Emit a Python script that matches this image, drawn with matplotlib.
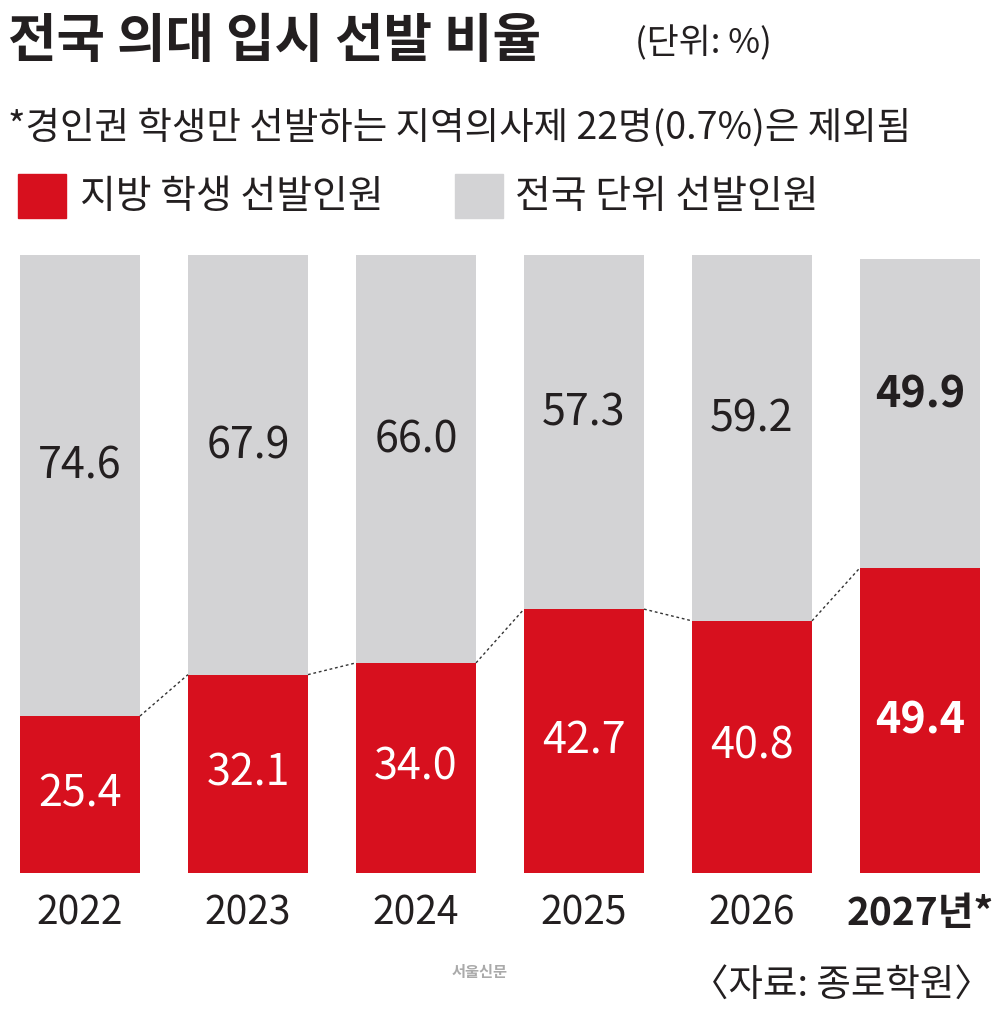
import matplotlib.pyplot as plt

plt.rcParams['font.family'] = ['Noto Sans CJK KR', 'DejaVu Sans']

years = ['2022', '2023', '2024', '2025', '2026', '2027년*']
local = [25.4, 32.1, 34.0, 42.7, 40.8, 49.4]
national = [74.6, 67.9, 66.0, 57.3, 59.2, 49.9]

RED = '#D7101E'
GRAY = '#D3D3D5'

fig = plt.figure(figsize=(10, 10.19), dpi=100)
ax = fig.add_axes([0.02, 146 / 1019, 0.96, 618 / 1019])

x = list(range(len(years)))
w = 120 / 168
ax.bar(x, local, width=w, color=RED)
ax.bar(x, national, width=w, bottom=local, color=GRAY)

for i in range(len(years)):
    bold = 'bold' if i == len(years) - 1 else 'normal'
    ax.text(i, local[i] / 2, f'{local[i]:.1f}', ha='center', va='center',
            color='white', fontsize=31, fontweight=bold)
    ax.text(i, local[i] + national[i] / 2 + 3, f'{national[i]:.1f}', ha='center', va='center',
            color='#231f20', fontsize=31, fontweight=bold)
    ax.text(i, -6.5, years[i], ha='center', va='center', color='#231f20',
            fontsize=28, fontweight=bold)

for i in range(len(years) - 1):
    ax.plot([i + w / 2, i + 1 - w / 2], [local[i], local[i + 1]],
            ls=(0, (2, 2)), color='#333333', lw=1)

ax.set_xlim(-0.357, 5.357)
ax.set_ylim(0, 100)
ax.axis('off')

fig.text(0.008, 1 - 42 / 1019, '전국 의대 입시 선발 비율', fontsize=38, fontweight='bold',
         va='center', color='#231f20')
fig.text(0.635, 1 - 44 / 1019, '(단위: %)', fontsize=25, va='center', color='#231f20')
fig.text(0.008, 1 - 128 / 1019, '*경인권 학생만 선발하는 지역의사제 22명(0.7%)은 제외됨',
         fontsize=27, va='center', color='#231f20')
fig.patches.append(plt.Rectangle((0.018, 1 - 218 / 1019), 0.048, 44 / 1019,
                                 transform=fig.transFigure, color=RED))
fig.text(0.08, 1 - 197 / 1019, '지방 학생 선발인원', fontsize=28, va='center', color='#231f20')
fig.patches.append(plt.Rectangle((0.455, 1 - 218 / 1019), 0.048, 44 / 1019,
                                 transform=fig.transFigure, color=GRAY))
fig.text(0.515, 1 - 197 / 1019, '전국 단위 선발인원', fontsize=28, va='center', color='#231f20')
fig.text(0.452, 1 - 972 / 1019, '서울신문', fontsize=11, va='center', color='#aaaaaa',
         fontweight='bold')
fig.text(0.992, 1 - 985 / 1019, '〈자료: 종로학원〉', fontsize=27, va='center', ha='right',
         color='#231f20')

fig.savefig('out.png', dpi=100)
